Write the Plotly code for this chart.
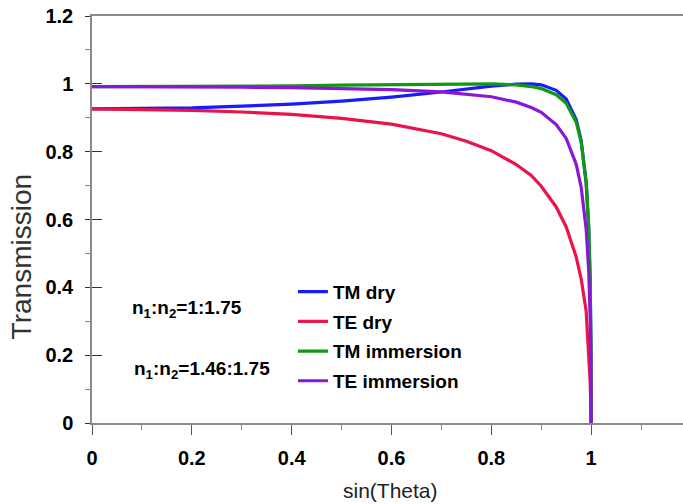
import plotly.graph_objects as go

# sin(Theta) sample points
sin_theta = [0, 0.1, 0.2, 0.3, 0.4, 0.5, 0.6, 0.7, 0.75, 0.8, 0.85, 0.88, 0.9,
             0.93, 0.95, 0.97, 0.98, 0.99, 0.995, 0.998, 0.9995, 1.0]

tm_dry = [0.926, 0.927, 0.929, 0.934, 0.940, 0.949, 0.961, 0.976, 0.985, 0.993,
          0.999, 1.0, 0.997, 0.981, 0.955, 0.895, 0.833, 0.709, 0.578, 0.418, 0.237, 0.0]
te_dry = [0.926, 0.925, 0.922, 0.917, 0.910, 0.898, 0.881, 0.853, 0.831, 0.803,
          0.762, 0.730, 0.698, 0.637, 0.578, 0.490, 0.425, 0.330, 0.220, 0.120, 0.050, 0.0]
tm_imm = [0.992, 0.992, 0.992, 0.993, 0.994, 0.996, 0.997, 0.999, 1.0, 1.0,
          0.997, 0.992, 0.986, 0.968, 0.943, 0.887, 0.828, 0.710, 0.582, 0.424, 0.240, 0.0]
te_imm = [0.992, 0.992, 0.991, 0.990, 0.989, 0.987, 0.983, 0.976, 0.970, 0.962,
          0.946, 0.930, 0.916, 0.880, 0.839, 0.763, 0.695, 0.572, 0.452, 0.317, 0.174, 0.0]

series_names = ["TM dry", "TE dry", "TM immersion", "TE immersion"]
series_vals = [tm_dry, te_dry, tm_imm, te_imm]
series_colors = ["#1a1aff", "#e8144a", "#0f9a0f", "#8a17d6"]

x_ticks = [0, 0.2, 0.4, 0.6, 0.8, 1.0]
x_tick_text = ["0", "0.2", "0.4", "0.6", "0.8", "1"]
y_ticks = [0, 0.2, 0.4, 0.6, 0.8, 1.0, 1.2]
y_tick_text = ["0", "0.2", "0.4", "0.6", "0.8", "1", "1.2"]

FONT = "Liberation Sans, Arial, sans-serif"

fig = go.Figure()
for i, (name, vals, col) in enumerate(zip(series_names, series_vals, series_colors)):
    fig.add_trace(go.Scatter(x=sin_theta, y=vals, mode="lines", name=name,
                             legendgroup=f"g{i}",
                             line=dict(color=col, width=3.2)))

# helper (empty) trace so the overlay axis with inside ticks is drawn
fig.add_trace(go.Scatter(x=[], y=[], yaxis="y2", showlegend=False, hoverinfo="skip"))

axis_line = "#8a8a8a"
fig.update_layout(
    width=683, height=504,
    margin=dict(l=92, r=0, t=16, b=81),
    paper_bgcolor="white", plot_bgcolor="white",
    showlegend=True,
    legend=dict(x=0.34, y=0.369, xanchor="left", yanchor="top",
                bgcolor="rgba(0,0,0,0)", tracegroupgap=2,
                font=dict(family=FONT, size=19, color="black", weight="bold"),
                itemwidth=30),
    xaxis=dict(range=[0, 1.184], tickvals=x_ticks, ticktext=x_tick_text,
               showline=True, linecolor=axis_line, linewidth=1.5, mirror=True,
               ticks="outside", ticklen=10, tickcolor="#555", tickwidth=1.2,
               minor=dict(ticks="outside", ticklen=5, dtick=0.1, tick0=0, tickcolor="#888"),
               showgrid=False, zeroline=False, ticklabelstandoff=6,
               tickfont=dict(family=FONT, size=20, color="black", weight="bold")),
    yaxis=dict(range=[0, 1.2], tickvals=y_ticks, ticktext=y_tick_text,
               showline=True, linecolor=axis_line, linewidth=1.5,
               ticks="outside", ticklen=5, tickcolor="#333", tickwidth=1.2,
               minor=dict(ticks="outside", ticklen=5, dtick=0.1, tick0=0, tickcolor="#888"),
               showgrid=False, zeroline=False, ticklabelstandoff=8,
               tickfont=dict(family=FONT, size=20, color="black", weight="bold")),
    yaxis2=dict(range=[0, 1.2], overlaying="y", anchor="x", side="left",
                tickvals=y_ticks, ticks="inside", ticklen=10, tickcolor="#333",
                tickwidth=1.2, showticklabels=False, showgrid=False,
                showline=False, zeroline=False),
    annotations=[
        dict(text="n<sub>1</sub>:n<sub>2</sub>=1:1.75", x=0.19, y=0.336,
             xref="x", yref="y", showarrow=False,
             font=dict(family=FONT, size=19, color="black", weight="bold")),
        dict(text="n<sub>1</sub>:n<sub>2</sub>=1.46:1.75", x=0.22, y=0.156,
             xref="x", yref="y", showarrow=False,
             font=dict(family=FONT, size=19, color="black", weight="bold")),
        dict(text="sin(Theta)", x=0.5055, y=-0.167, xref="paper", yref="paper",
             showarrow=False, xanchor="center", yanchor="middle",
             font=dict(family=FONT, size=21, color="#222")),
        dict(text="Transmission", x=-0.1177, y=0.408, xref="paper", yref="paper",
             showarrow=False, xanchor="center", yanchor="middle", textangle=-90,
             font=dict(family=FONT, size=28, color="#333")),
    ],
)

fig.write_html("out.html")
